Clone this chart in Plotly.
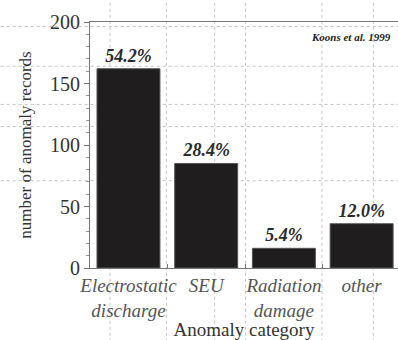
import plotly.graph_objects as go

# Spacecraft anomaly records by category (Koons et al. 1999)
categories = ["Electrostatic<br>discharge", "SEU", "Radiation<br>damage", "other"]
records = [162, 85, 16, 36]
percent_labels = ["54.2%", "28.4%", "5.4%", "12.0%"]
y_ticks = [0, 50, 100, 150, 200]

x_pos = list(range(len(categories)))

SERIF = "Liberation Serif"

fig = go.Figure()
fig.add_trace(go.Bar(
    x=x_pos,
    y=records,
    width=0.81,
    marker=dict(color="#1f1d1d", line=dict(color="#555555", width=1)),
    text=[f"<b><i>{p}</i></b>" for p in percent_labels],
    textposition="outside",
    cliponaxis=False,
    textfont=dict(family=SERIF, size=18, color="#2a2a2a"),
    hoverinfo="skip",
))

# faint dotted page grid behind the plot
grid_kw = dict(color="#c4c4c4", width=1, dash="dot")
for yp in [0.982, 0.82, 0.665, 0.575, 0.355]:
    fig.add_shape(type="line", xref="paper", yref="paper", x0=-0.29, x1=1.0,
                  y0=yp, y1=yp, line=grid_kw, layer="below")
for xp in [0.065, 0.248, 0.405, 0.505, 0.753, 0.92]:
    fig.add_shape(type="line", xref="paper", yref="paper", x0=xp, x1=xp,
                  y0=-0.3, y1=1.08, line=grid_kw, layer="below")

fig.add_annotation(
    text="<b><i>Koons et al. 1999</i></b>", xref="paper", yref="paper",
    x=0.985, y=0.937, xanchor="right", yanchor="middle", showarrow=False,
    font=dict(family=SERIF, size=11, color="#222222"),
)

fig.update_layout(
    width=398, height=340,
    margin=dict(l=90, r=0, t=22, b=72),
    paper_bgcolor="white", plot_bgcolor="white",
    showlegend=False,
    bargap=0.19,
    font=dict(family=SERIF),
    xaxis=dict(
        range=[-0.495, 3.468],
        tickvals=x_pos, ticktext=[f"<i>{c}</i>".replace("<br>", "</i><br><i>") for c in categories],
        ticks="", showgrid=False, zeroline=False,
        showline=True, linecolor="#777777", linewidth=1, mirror=True,
        tickfont=dict(family=SERIF, size=19, color="#555555"),
        minor=dict(tick0=0.5, dtick=1, ticks="inside", ticklen=4, tickcolor="#777777"),
        title=dict(text="Anomaly category", standoff=5,
                   font=dict(family=SERIF, size=19, color="#333333")),
        automargin=False,
    ),
    yaxis=dict(
        range=[0, 200],
        tickvals=y_ticks,
        ticks="outside", ticklen=5, tickcolor="#777777",
        showgrid=False, zeroline=False,
        showline=True, linecolor="#777777", linewidth=1,
        tickfont=dict(family=SERIF, size=20, color="#333333"),
        minor=dict(dtick=10, ticks="outside", ticklen=3, tickcolor="#999999"),
        title=dict(text="number of anomaly records", standoff=14,
                   font=dict(family=SERIF, size=17, color="#333333")),
        automargin=False,
    ),
)

fig.write_html("out.html")
